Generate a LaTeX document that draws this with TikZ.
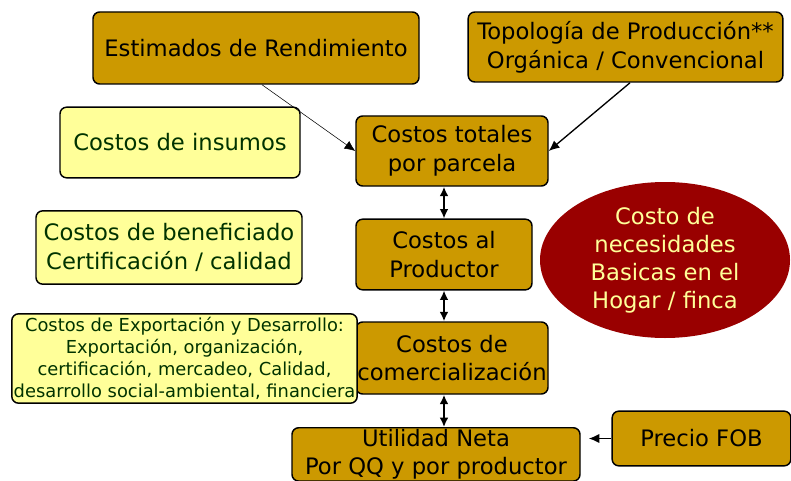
\documentclass[tikz,border=0pt]{standalone}
\usepackage{fontspec}
\setmainfont{DejaVu Sans}
\usetikzlibrary{positioning,arrows.meta,shapes.geometric}
\definecolor{oro}{HTML}{CC9900}
\definecolor{crema}{HTML}{FFFF99}
\definecolor{vino}{HTML}{990000}
\definecolor{verdeosc}{HTML}{003300}
\tikzset{
  caja/.style={draw, line width=1.1pt, rounded corners=5pt, fill=oro, align=center,
               inner sep=0.5pt, font=\fontsize{17}{21.5}\selectfont},
  nota/.style={caja, fill=crema, text=verdeosc},
  flecha/.style={-{Latex[length=8pt,width=7pt]}, line width=1pt},
  doble/.style={{Latex[length=7pt,width=6.5pt]}-{Latex[length=7pt,width=6.5pt]}, line width=1.2pt}
}
\begin{document}
\begin{tikzpicture}[x=0.75pt,y=-0.75pt]
  \useasboundingbox (0,0) rectangle (791,481);
  % fila superior
  \node[caja, minimum width=244.5pt, minimum height=54pt] (estimados) at (256,48) {Estimados de Rendimiento};
  \node[caja, minimum width=236pt, minimum height=52.5pt] (topologia) at (625.5,47) {Topología de Producción**\\Orgánica / Convencional};
  % columna central
  \node[caja, minimum width=144pt, minimum height=52.5pt] (totales) at (452,151) {Costos totales\\por parcela};
  \node[caja, minimum width=132pt, minimum height=53pt] (productor) at (444,254.5) {Costos al\\Productor};
  \node[caja, minimum width=144pt, minimum height=54pt] (comercial) at (452,358) {Costos de\\comercialización};
  \node[caja, minimum width=216pt, minimum height=40pt, anchor=north] (utilidad) at (436,427) {Utilidad Neta\\Por QQ y por productor};
  \node[caja, minimum width=134pt, minimum height=41pt] (fob) at (701.5,438.5) {Precio FOB};
  % notas a la izquierda
  \node[nota, minimum width=180pt, minimum height=53pt] (insumos) at (180,142.5) {Costos de insumos};
  \node[nota, minimum width=199.5pt, minimum height=55pt] (beneficio) at (169,247.5) {Costos de beneficiado\\Certificación / calidad};
  \node[nota, minimum width=259pt, minimum height=67pt, font=\fontsize{13.4}{16.5}\selectfont] (export) at (184.5,358.5)
    {Costos de Exportación y Desarrollo:\\Exportación, organización,\\certificación, mercadeo, Calidad,\\desarrollo social-ambiental, financiera};
  % elipse
  \node[ellipse, fill=vino, text=crema, align=center, minimum width=187.5pt, minimum height=117pt,
        inner sep=0pt, font=\fontsize{17}{21}\selectfont] (hogar) at (665,260)
    {Costo de\\necesidades\\Basicas en el\\Hogar / finca};
  % conectores
  \draw[flecha, line width=0.4pt] ([xshift=4.5pt]estimados.south) -- (totales.west);
  \draw[flecha] ([xshift=3.4pt]topologia.south) -- (totales.east);
  \draw[doble] (totales.south -| productor) -- (productor.north);
  \draw[doble] (productor.south) -- (productor.south |- comercial.north);
  \draw[doble] (comercial.south -| productor) -- (utilidad.north -| productor);
  \draw[flecha, shorten >=6pt] (fob.west) -- (utilidad.east |- fob.west);
\end{tikzpicture}
\end{document}
